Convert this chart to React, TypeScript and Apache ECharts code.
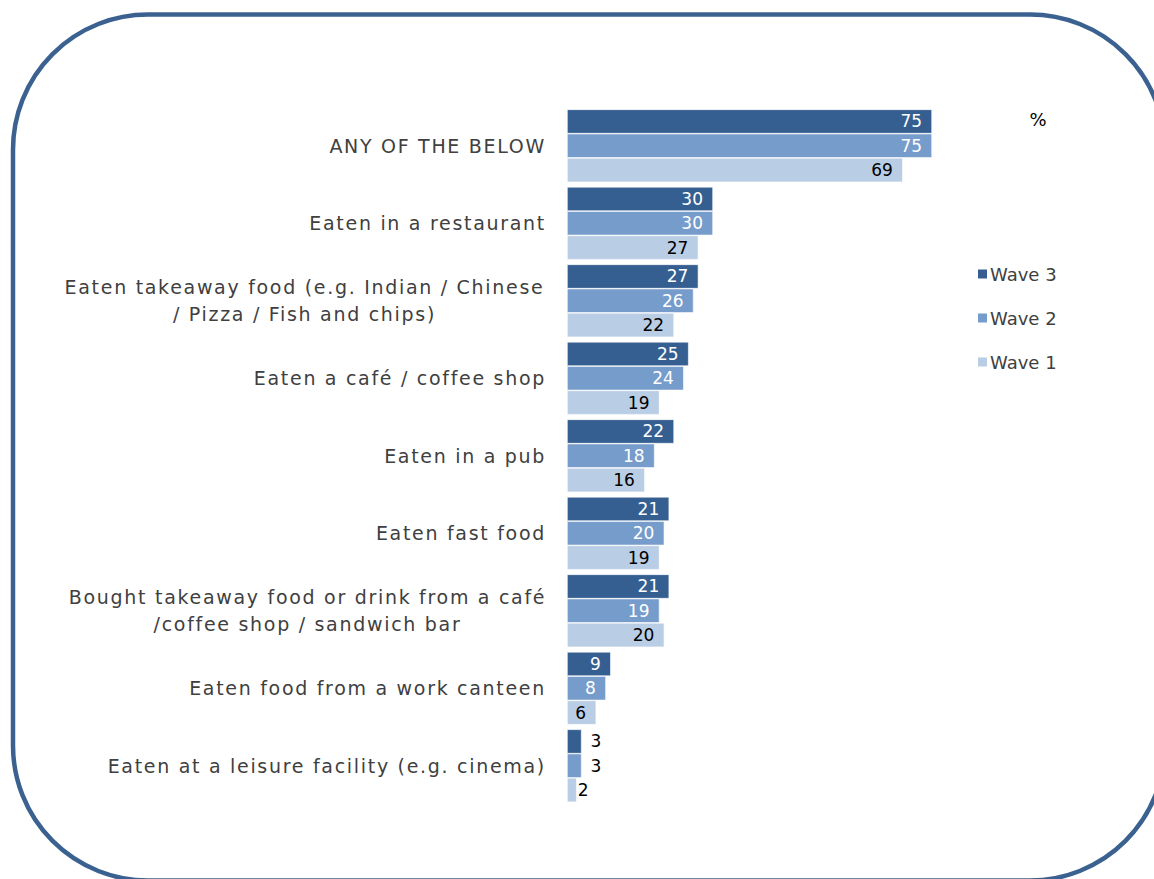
import React, { useEffect, useRef } from "react";
import * as echarts from "echarts";

const categories = [
  "ANY OF THE BELOW",
  "Eaten in a restaurant",
  "Eaten takeaway food (e.g. Indian / Chinese\n/ Pizza / Fish and chips)",
  "Eaten a café / coffee shop",
  "Eaten in a pub",
  "Eaten fast food",
  "Bought takeaway food or drink from a café\n/coffee shop / sandwich bar",
  "Eaten food from a work canteen",
  "Eaten at a leisure facility (e.g. cinema)",
];
const wave3 = [75, 30, 27, 25, 22, 21, 21, 9, 3];
const wave2 = [75, 30, 26, 24, 18, 20, 19, 8, 3];
const wave1 = [69, 27, 22, 19, 16, 19, 20, 6, 2];
const seriesNames = ["Wave 3", "Wave 2", "Wave 1"];
const colors = ["#365F91", "#769CCB", "#B9CDE5"];
const labelColors = ["#ffffff", "#ffffff", "#000000"];

const FONT = "'DejaVu Sans', Verdana, sans-serif";

export default function App() {
  const ref = useRef<HTMLDivElement>(null);
  useEffect(() => {
    if (!ref.current) return;
    const chart = echarts.init(ref.current, undefined, { renderer: "svg" });
    const seriesData = [wave3, wave2, wave1];
    const series = seriesData.map((vals, si) => ({
      name: seriesNames[si],
      type: "bar",
      barGap: "0%",
      barCategoryGap: "6%",
      itemStyle: { color: colors[si], borderColor: "#ffffff", borderWidth: 0.6 },
      label: {
        show: true,
        position: "insideRight",
        distance: 10,
        color: labelColors[si],
        fontFamily: FONT,
        fontSize: 17,
      },
      data: vals.map((v) =>
        v < 5
          ? {
              value: v,
              label: {
                position: "right",
                distance: si === 2 ? 1 : 9,
                color: "#000000",
              },
            }
          : v
      ),
    }));
    const richBase = {
      align: "center",
      fontFamily: FONT,
      fontSize: 19,
      color: "#404040",
      lineHeight: 27,
    };
    chart.setOption({
      animation: false,
      backgroundColor: "#ffffff",
      grid: { left: 567, top: 107, width: 486.7, height: 697.5, containLabel: false },
      xAxis: {
        type: "value",
        min: 0,
        max: 100,
        show: false,
      },
      yAxis: {
        type: "category",
        inverse: true,
        data: categories,
        axisLine: { show: false },
        axisTick: { show: false },
        axisLabel: {
          margin: 21,
          fontFamily: FONT,
          fontSize: 19,
          color: "#404040",
          lineHeight: 27,
          formatter: (val: string, idx: number) => {
            if (val.indexOf("\n") < 0) return val;
            const key = idx === 2 ? "a" : "b";
            return val
              .split("\n")
              .map((l) => `{${key}|${l}}`)
              .join("\n");
          },
          rich: {
            a: { ...richBase, width: 483 },
            b: { ...richBase, width: 477 },
          },
        },
      },
      legend: {
        orient: "vertical",
        left: 971,
        top: 260,
        itemWidth: 11,
        itemHeight: 11,
        itemGap: 26,
        icon: "rect",
        data: seriesNames,
        textStyle: { fontFamily: FONT, fontSize: 18, color: "#404040", padding: [0, 0, 0, -3] },
      },
      graphic: [
        {
          type: "rect",
          shape: { x: 13, y: 14.5, width: 1152, height: 866, r: 135 },
          style: { fill: "none", stroke: "#3A6190", lineWidth: 4.5 },
          silent: true,
        },
        {
          type: "text",
          x: 1038,
          y: 119,
          style: {
            text: "%",
            fontFamily: FONT,
            fontSize: 18,
            fill: "#000000",
            textAlign: "center",
            textVerticalAlign: "middle",
          },
        },
      ],
      series,
    });
    return () => chart.dispose();
  }, []);
  return (
    <>
      <style>{`svg text[style*="19px"] { letter-spacing: 1.7px; }`}</style>
      <div
        ref={ref}
        style={{ position: "absolute", left: 0, top: 0, width: 1154, height: 879 }}
      />
    </>
  );
}
